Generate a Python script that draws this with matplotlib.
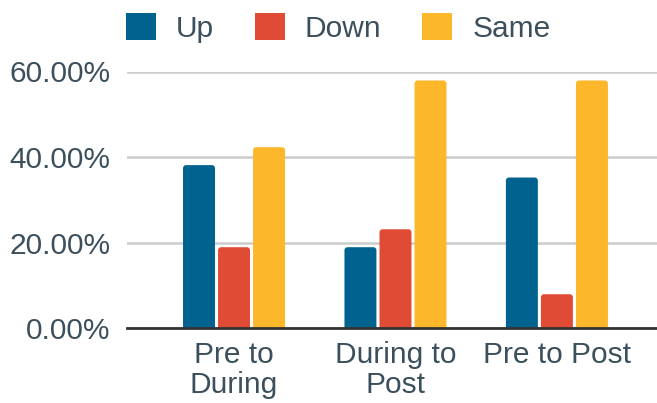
import matplotlib.pyplot as plt
import numpy as np
from matplotlib.patches import FancyBboxPatch, Patch
from matplotlib.ticker import FuncFormatter

# Share of responses per comparison period (%)
periods = ["Pre to\nDuring", "During to\nPost", "Pre to Post"]
up = [38.1, 18.9, 35.2]
down = [18.9, 23.1, 7.9]
same = [42.3, 57.9, 57.9]
series_names = ["Up", "Down", "Same"]
colors = ["#00628f", "#e04b36", "#fcb72a"]
text_color = "#3b4f5c"

plt.rcParams['font.family'] = ['Liberation Sans', 'DejaVu Sans']
fs = 21.5

fig = plt.figure(figsize=(6.57, 4.03), dpi=100)
ax = fig.add_axes([127 / 657, 75 / 403, 530 / 657, 256.5 / 403])

x = np.arange(len(periods))
width = 0.198
step = 0.217

for i, (vals, col) in enumerate(zip([up, down, same], colors)):
    bars = ax.bar(x + (i - 1) * step, vals, width, color=col)
    # swap plain rectangles for rounded ones
    for b in bars:
        b.set_visible(False)
        patch = FancyBboxPatch((b.get_x(), -1), b.get_width(), b.get_height() + 1,
                               boxstyle="round,pad=0,rounding_size=0.019",
                               mutation_aspect=38, facecolor=col, edgecolor="none",
                               zorder=2)
        ax.add_patch(patch)

ax.set_xlim(-0.663, 2.62)
ax.set_ylim(0, 60)
ax.set_yticks([0, 20, 40, 60])
ax.yaxis.set_major_formatter(FuncFormatter(lambda v, p: f"{v:.2f}%"))
ax.set_xticks(x)
ax.set_xticklabels(periods, linespacing=1.07)

ax.grid(axis='y', color='#cccccc', linewidth=1.8, zorder=0)
ax.set_axisbelow(True)
for s in ['top', 'right', 'left']:
    ax.spines[s].set_visible(False)
ax.spines['bottom'].set_color('#333333')
ax.spines['bottom'].set_linewidth(2)
ax.spines['bottom'].set_zorder(3)
ax.tick_params(axis='both', length=0, labelsize=fs, colors=text_color)
ax.tick_params(axis='y', pad=12)
ax.tick_params(axis='x', pad=9.5)

handles = [Patch(facecolor=c, edgecolor='none') for c in colors]
fig.legend(handles, series_names, loc='center', bbox_to_anchor=(0.515, 0.930),
           ncol=3, frameon=False, fontsize=fs, labelcolor=text_color,
           handlelength=1.0, handleheight=1.0, handletextpad=0.67,
           columnspacing=1.37, borderpad=0, borderaxespad=0)

fig.savefig("out.png", dpi=100)
